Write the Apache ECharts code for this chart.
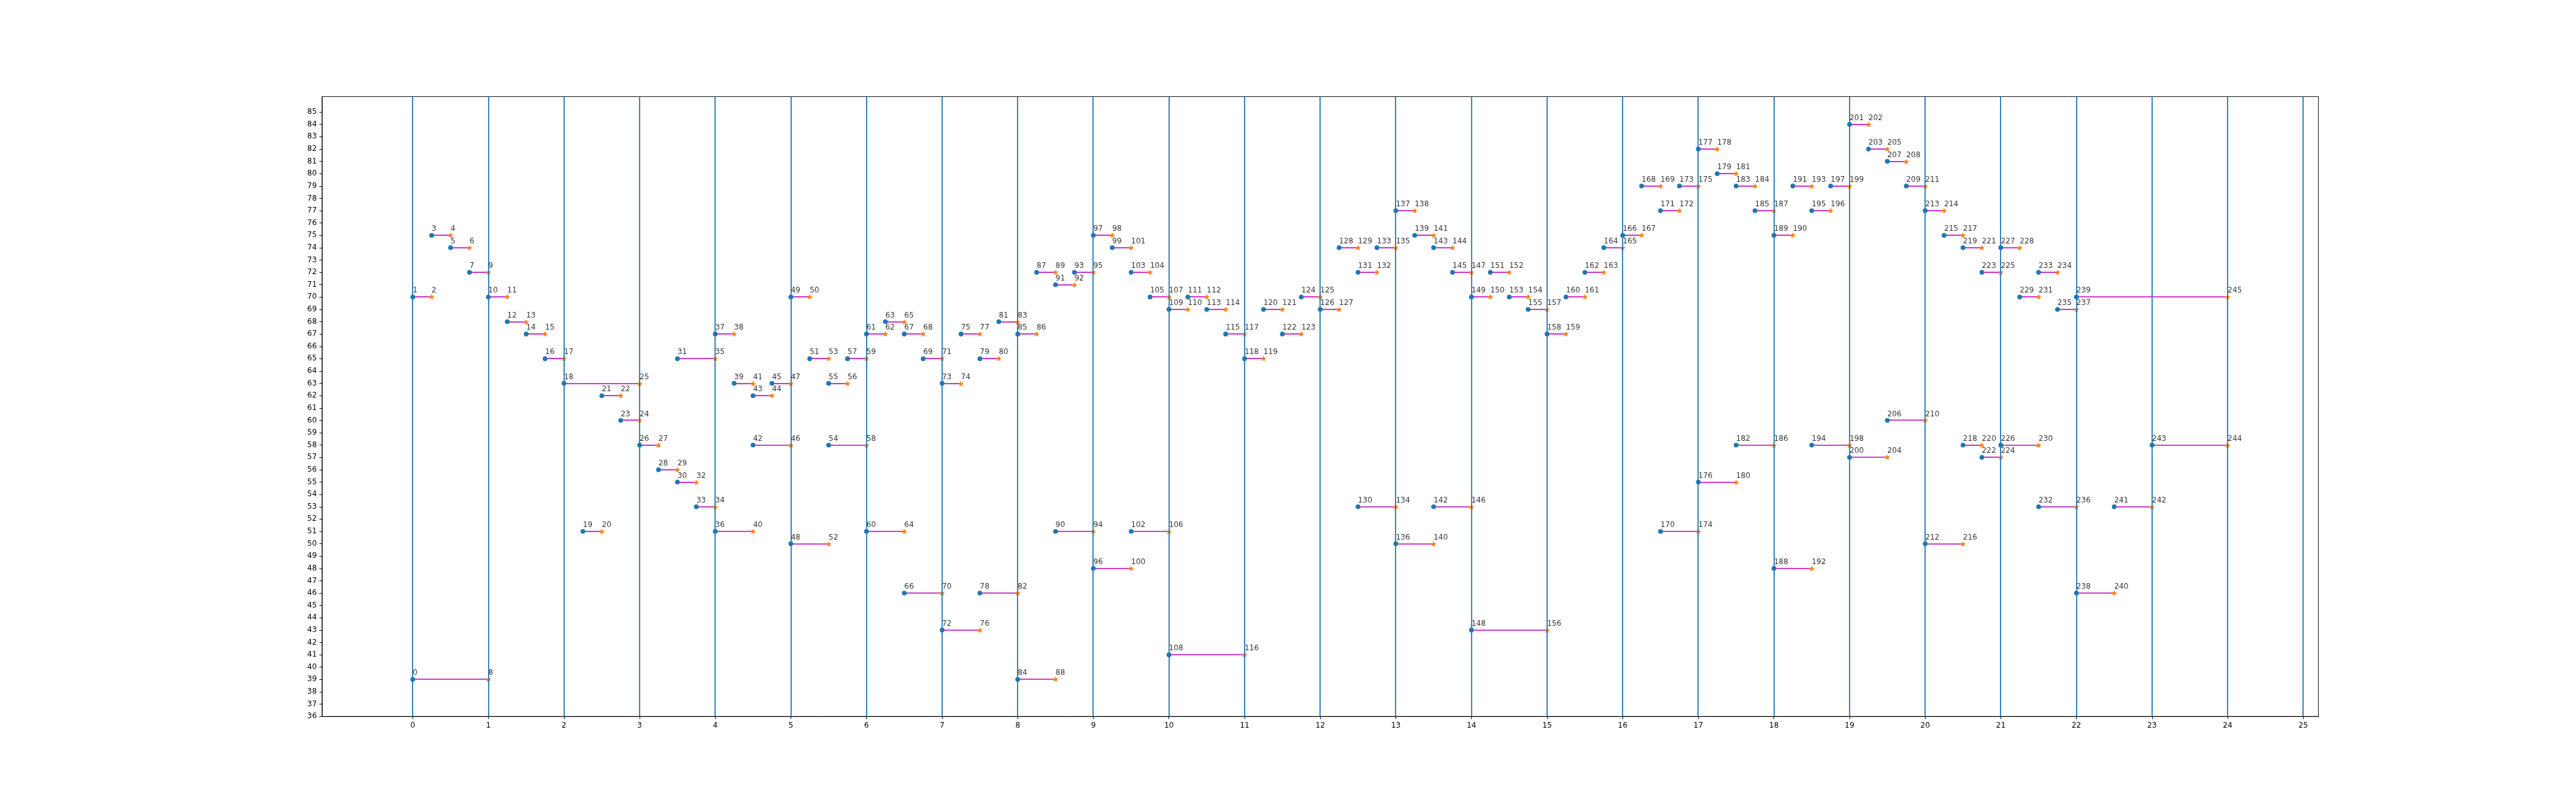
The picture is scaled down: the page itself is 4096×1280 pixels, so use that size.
<!DOCTYPE html>
<html>
<head>
<meta charset="utf-8">
<script src="https://cdn.jsdelivr.net/npm/echarts@6/dist/echarts.min.js"></script>
<style>
html,body{margin:0;padding:0;background:#fff;}
#chart{width:4096px;height:1280px;}
</style>
</head>
<body>
<div id="chart"></div>
<script>
// ---- data ----
const startLabels = [0,1,3,5,7,10,12,14,16,18,19,21,23,26,28,30,31,33,36,37,39,42,43,45,48,49,51,54,55,57,60,61,63,66,67,69,72,73,75,78,79,81,84,85,87,90,91,93,96,97,99,102,103,105,108,109,111,113,115,118,120,122,124,126,128,130,131,133,136,137,139,142,143,145,148,149,151,153,155,158,160,162,164,166,168,170,171,173,176,177,179,182,183,185,188,189,191,194,195,197,200,201,203,206,207,209,212,213,215,218,219,222,223,226,227,229,232,233,235,238,239,241,243];
const startX = [0,0,0.25,0.5,0.75,1,1.25,1.5,1.75,2,2.25,2.5,2.75,3,3.25,3.5,3.5,3.75,4,4,4.25,4.5,4.5,4.75,5,5,5.25,5.5,5.5,5.75,6,6,6.25,6.5,6.5,6.75,7,7,7.25,7.5,7.5,7.75,8,8,8.25,8.5,8.5,8.75,9,9,9.25,9.5,9.5,9.75,10,10,10.25,10.5,10.75,11,11.25,11.5,11.75,12,12.25,12.5,12.5,12.75,13,13,13.25,13.5,13.5,13.75,14,14,14.25,14.5,14.75,15,15.25,15.5,15.75,16,16.25,16.5,16.5,16.75,17,17,17.25,17.5,17.5,17.75,18,18,18.25,18.5,18.5,18.75,19,19,19.25,19.5,19.5,19.75,20,20,20.25,20.5,20.5,20.75,20.75,21,21,21.25,21.5,21.5,21.75,22,22,22.5,23];
const segY = [39,70,75,74,72,70,68,67,65,63,51,62,60,58,56,55,65,53,51,67,63,58,62,63,50,70,65,58,63,65,51,67,68,46,67,65,43,63,67,46,65,68,39,67,72,51,71,72,48,75,74,51,72,70,41,69,70,69,67,65,69,67,70,69,74,53,72,74,50,77,75,53,74,72,43,70,72,70,69,67,70,72,74,75,79,51,77,79,55,82,80,58,79,77,48,75,79,58,77,79,57,84,82,60,81,79,50,77,75,58,74,57,72,58,74,70,53,72,69,46,70,53,58];
const endLabels = [8,2,4,6,9,11,13,15,17,25,20,22,24,27,29,32,35,34,40,38,41,46,44,47,52,50,53,58,56,59,64,62,65,70,68,71,76,74,77,82,80,83,88,86,89,94,92,95,100,98,101,106,104,107,116,110,112,114,117,119,121,123,125,127,129,134,132,135,140,138,141,146,144,147,156,150,152,154,157,159,161,163,165,167,169,174,172,175,180,178,181,186,184,187,192,190,193,198,196,199,204,202,205,210,208,211,216,214,217,220,221,224,225,230,228,231,236,234,237,240,245,242,244];
const endX = [1,0.25,0.5,0.75,1,1.25,1.5,1.75,2,3,2.5,2.75,3,3.25,3.5,3.75,4,4,4.5,4.25,4.5,5,4.75,5,5.5,5.25,5.5,6,5.75,6,6.5,6.25,6.5,7,6.75,7,7.5,7.25,7.5,8,7.75,8,8.5,8.25,8.5,9,8.75,9,9.5,9.25,9.5,10,9.75,10,11,10.25,10.5,10.75,11,11.25,11.5,11.75,12,12.25,12.5,13,12.75,13,13.5,13.25,13.5,14,13.75,14,15,14.25,14.5,14.75,15,15.25,15.5,15.75,16,16.25,16.5,17,16.75,17,17.5,17.25,17.5,18,17.75,18,18.5,18.25,18.5,19,18.75,19,19.5,19.25,19.5,20,19.75,20,20.5,20.25,20.5,20.75,20.75,21,21,21.5,21.25,21.5,22,21.75,22,22.5,24,23,24];
const xTicks = [0,1,2,3,4,5,6,7,8,9,10,11,12,13,14,15,16,17,18,19,20,21,22,23,24,25];
const yTicks = [36,37,38,39,40,41,42,43,44,45,46,47,48,49,50,51,52,53,54,55,56,57,58,59,60,61,62,63,64,65,66,67,68,69,70,71,72,73,74,75,76,77,78,79,80,81,82,83,84,85];
const vLines = [0,1,2,3,4,5,6,7,8,9,10,11,12,13,14,15,16,17,18,19,20,21,22,23,24,25];

// ---- build options ----
const S = 0.8533;
const FONT = 'DejaVu Sans';
const fs = 13.9 * S;
const circleSize = 7.6;
const starR = 4.2;   // outer radius of the star marker, px

function starPoints(cx, cy, r) {
  const pts = [];
  for (let k = 0; k < 10; k++) {
    const rr = (k % 2 === 0) ? r : r * 0.45;
    const a = k * Math.PI / 5;
    pts.push([cx + rr * Math.sin(a), cy - rr * Math.cos(a)]);
  }
  return pts;
}

const segData = startX.map((x, i) => [x, endX[i], segY[i]]);
const circleData = startX.map((x, i) => [x, segY[i], startLabels[i]]);
const starData = endX.map((x, i) => [x, segY[i], endLabels[i]]);
const labelData = circleData.concat(starData);

const chart = echarts.init(document.getElementById('chart'), null, {renderer: 'canvas', width: 4096, height: 1280});
const axisCommon = {
  type: 'value',
  splitLine: {show: false},
  axisLine: {show: true, onZero: false, lineStyle: {color: '#000', width: 0.95}},
  axisTick: {show: true, inside: false, length: 4.15, lineStyle: {color: '#000', width: 0.95}},
  axisLabel: {show: true, color: '#000', fontFamily: FONT, fontSize: fs, margin: 8.3}
};
chart.setOption({
  animation: false,
  backgroundColor: '#fff',
  grid: {left: 512, top: 153.6, right: 409.6, bottom: 140.8, containLabel: false, outerBoundsMode: 'none',
         show: true, borderColor: '#000', borderWidth: 0.95, backgroundColor: 'transparent'},
  xAxis: Object.assign({}, axisCommon, {
    min: -1.2, max: 25.2,
    axisTick: Object.assign({}, axisCommon.axisTick, {customValues: xTicks}),
    axisLabel: Object.assign({}, axisCommon.axisLabel, {customValues: xTicks, formatter: v => String(v)})
  }),
  yAxis: Object.assign({}, axisCommon, {
    min: 36, max: 86.25,
    axisTick: Object.assign({}, axisCommon.axisTick, {customValues: yTicks}),
    axisLabel: Object.assign({}, axisCommon.axisLabel, {customValues: yTicks, formatter: v => String(v)})
  }),
  series: [
    {
      type: 'custom', z: 1, silent: true,
      encode: {x: [0, 1], y: 2},
      renderItem: function (params, api) {
        const p1 = api.coord([api.value(0), api.value(2)]);
        const p2 = api.coord([api.value(1), api.value(2)]);
        const y = Math.round(p1[1]);
        return {
          type: 'line',
          shape: {x1: p1[0], y1: y, x2: p2[0], y2: y},
          style: {stroke: '#bf00bf', lineWidth: 1.6, fill: null}
        };
      },
      data: segData
    },
    {
      type: 'scatter', z: 2, silent: true,
      symbol: 'circle', symbolSize: circleSize,
      itemStyle: {color: '#1f77b4', opacity: 1},
      data: circleData
    },
    {
      type: 'custom', z: 3, silent: true,
      encode: {x: 0, y: 1},
      renderItem: function (params, api) {
        const p = api.coord([api.value(0), api.value(1)]);
        return {
          type: 'polygon',
          z2: 10,
          shape: {points: starPoints(p[0], Math.round(p[1]) + 0.4, starR)},
          style: {fill: '#ff7f0e', stroke: '#ff7f0e', lineWidth: 0.5}
        };
      },
      data: starData
    },
    {
      type: 'custom', z: 4, silent: true,
      encode: {x: 0},
      renderItem: function (params, api) {
        const cs = params.coordSys;
        const p = api.coord([api.value(0), 50]);
        const x = Math.round(p[0]);
        return {
          type: 'line',
          shape: {x1: x, y1: cs.y, x2: x, y2: cs.y + cs.height},
          style: {stroke: '#1f77b4', lineWidth: 1.78, fill: null}
        };
      },
      data: vLines.map(v => [v])
    },
    {
      type: 'scatter', z: 5, silent: true,
      symbol: 'circle', symbolSize: 0.01,
      itemStyle: {color: 'rgba(0,0,0,0)'},
      label: {
        show: true, position: 'top', distance: 4.1,
        align: 'left', verticalAlign: 'bottom', lineHeight: fs,
        color: '#000', fontFamily: FONT, fontSize: fs,
        formatter: p => String(p.value[2])
      },
      data: labelData
    }
  ]
});
</script>
</body>
</html>
